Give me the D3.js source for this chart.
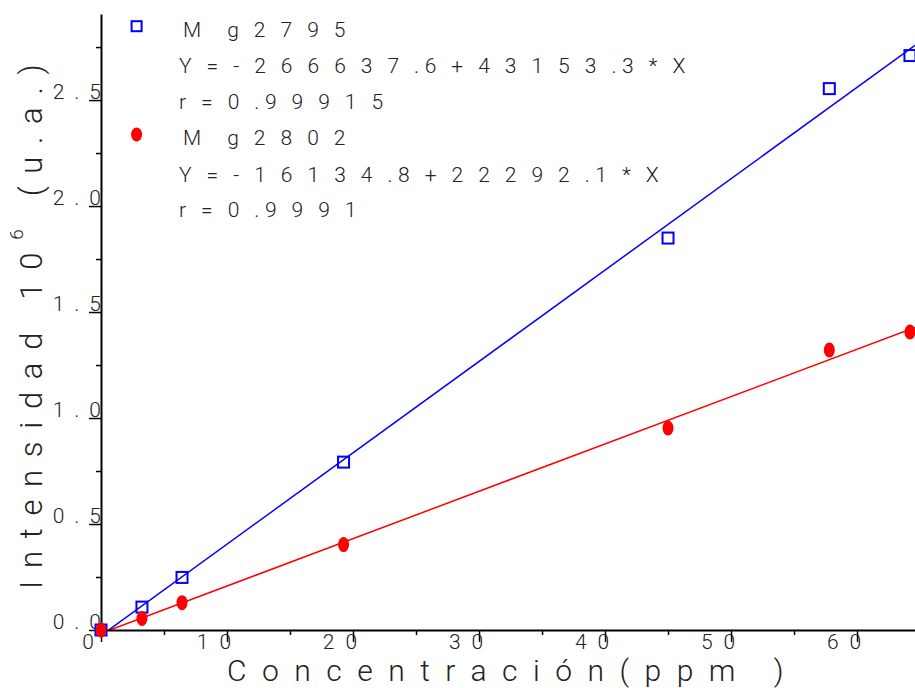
<!DOCTYPE html>
<html>
<head>
<meta charset="utf-8">
<script src="https://cdn.jsdelivr.net/npm/d3@7"></script>
<style>
  body { margin: 0; background: #fff; }
  svg { display: block; font-family: Roboto, "Liberation Sans", sans-serif; font-weight: 300; }
</style>
</head>
<body>
<svg id="chart" width="915" height="688"></svg>
<script>
// Calibration data: concentration (ppm) vs. emission intensity (x10^6 a.u.)
const concentration = [0, 3.25, 6.43, 19.25, 45.0, 57.8, 64.2];
const mg2795 = [0, 0.108, 0.248, 0.792, 1.849, 2.554, 2.710];
const mg2802 = [0, 0.054, 0.129, 0.403, 0.953, 1.321, 1.406];

const xTicks = [0, 10, 20, 30, 40, 50, 60];
const xMinorTicks = [5, 15, 25, 35, 45, 55];
const yTicks = [0, 0.5, 1.0, 1.5, 2.0, 2.5];
const yMinorTicks = [0.25, 0.75, 1.25, 1.75, 2.25, 2.75];

const seriesNames = ["Mg2795", "Mg2802"];
const fitEquations = ["Y=-266637.6+43153.3*X", "Y=-16134.8+22292.1*X"];
const fitR = ["r=0.99915", "r=0.9991"];

const xTitle = "Concentración(ppm )";
const yTitleMain = "Intensidad 10";
const yTitleSup = "6";
const yTitleUnit = " (u.a.)";

const svg = d3.select("#chart");
const plot = { left: 101, right: 915, top: 14, bottom: 630 };

const x = d3.scaleLinear().domain([0, 64.6]).range([plot.left, plot.right]);
const y = d3.scaleLinear().domain([0, 2.906]).range([plot.bottom, plot.top]);

svg.append("defs").append("clipPath").attr("id", "plotClip")
  .append("rect")
  .attr("x", plot.left).attr("y", plot.top)
  .attr("width", plot.right - plot.left).attr("height", plot.bottom - plot.top);

// wide letter spacing, with decimal points tucked against the following digit
function spacedText(textSel, str, ls, dotLs) {
  textSel.text(null);
  str.split(/(\.)/).filter(p => p.length).forEach(p => {
    textSel.append("tspan")
      .style("letter-spacing", (p === "." ? dotLs : ls) + "px")
      .text(p);
  });
}

// least-squares fit for each series
function fit(xs, ys) {
  const mx = d3.mean(xs), my = d3.mean(ys);
  let sxy = 0, sxx = 0;
  xs.forEach((v, i) => { sxy += (v - mx) * (ys[i] - my); sxx += (v - mx) * (v - mx); });
  const slope = sxy / sxx;
  return { slope, intercept: my - slope * mx };
}

const series = [
  { name: seriesNames[0], values: mg2795, color: "#0000ff", shape: "square" },
  { name: seriesNames[1], values: mg2802, color: "#ff0000", shape: "dot" }
];

// regression lines
const lineGen = d3.line().x(d => x(d[0])).y(d => y(d[1]));
const lines = svg.append("g").attr("clip-path", "url(#plotClip)");
series.forEach(s => {
  const f = fit(concentration, s.values);
  lines.append("path")
    .attr("d", lineGen(x.domain().map(v => [v, f.intercept + f.slope * v])))
    .attr("fill", "none").attr("stroke", s.color).attr("stroke-width", 1.5);
});

// axes
const tickColor = "#000";
const labelColor = "#222";
const labelFont = "Roboto, 'Liberation Sans', sans-serif";

const yAxis = svg.append("g").attr("transform", `translate(${plot.left},0)`)
  .call(d3.axisLeft(y).tickValues(yTicks).tickSize(12).tickSizeOuter(0).tickFormat(d3.format(".1f")));
const yMinor = svg.append("g").attr("transform", `translate(${plot.left},0)`)
  .call(d3.axisLeft(y).tickValues(yMinorTicks).tickSize(5).tickSizeOuter(0).tickFormat(""));
yMinor.select(".domain").remove();

const xAxis = svg.append("g").attr("transform", `translate(0,${plot.bottom})`)
  .call(d3.axisBottom(x).tickValues(xTicks).tickSize(12).tickSizeOuter(0).tickFormat(d3.format("d")));
const xMinor = svg.append("g").attr("transform", `translate(0,${plot.bottom})`)
  .call(d3.axisBottom(x).tickValues(xMinorTicks).tickSize(5).tickSizeOuter(0).tickFormat(""));
xMinor.select(".domain").remove();

[yAxis, xAxis].forEach(a => a.select(".domain").attr("stroke", tickColor).attr("stroke-width", 2));
[yAxis, yMinor, xAxis, xMinor].forEach(a => a.selectAll(".tick line").attr("stroke", tickColor).attr("stroke-width", 1.5));

yAxis.selectAll(".tick text")
  .attr("x", 10).attr("y", -2).attr("dy", null)
  .attr("text-anchor", "end")
  .style("letter-spacing", "10px")
  .attr("font-size", 21).attr("font-family", labelFont)
  .attr("fill", labelColor);

xAxis.selectAll(".tick text")
  .attr("x", -8).attr("y", 19).attr("dy", null)
  .attr("text-anchor", "middle")
  .style("letter-spacing", "11px")
  .attr("font-size", 21).attr("font-family", labelFont)
  .attr("fill", labelColor);

// data markers
const markers = svg.append("g");
function drawMarker(g, shape, color, cx, cy, big) {
  if (shape === "square") {
    const h = big ? 5.5 : 5;
    g.append("rect").attr("x", cx - h).attr("y", cy - h).attr("width", 2 * h).attr("height", 2 * h)
      .attr("fill", "none").attr("stroke", color).attr("stroke-width", 2);
  } else {
    g.append("ellipse").attr("cx", cx).attr("cy", cy)
      .attr("rx", 5.5).attr("ry", big ? 7.5 : 7).attr("fill", color);
  }
}
series.forEach(s => {
  s.values.forEach((v, i) => drawMarker(markers, s.shape, s.color, x(concentration[i]), y(v), true));
});

// legend
const legend = svg.append("g").attr("font-size", 21).attr("fill", labelColor);
const legendRows = [
  { marker: series[0], text: series[0].name, name: true },
  { text: fitEquations[0] },
  { text: fitR[0] },
  { marker: series[1], text: series[1].name, name: true },
  { text: fitEquations[1] },
  { text: fitR[1] }
];
const rowY = [36.7, 73, 109, 145, 181.5, 216.7];
legendRows.forEach((r, i) => {
  if (r.marker) drawMarker(legend, r.marker.shape, r.marker.color, 136.6, rowY[i] - 10.5, false);
  const t = legend.append("text").attr("x", 179).attr("y", rowY[i]);
  if (r.name) {
    // element symbol set slightly apart from the wavelength
    t.append("tspan").attr("dx", 4).style("letter-spacing", "15px").text(r.text.slice(0, 1));
    t.append("tspan").attr("dx", 11).style("letter-spacing", "15px").text(r.text.slice(1));
  } else {
    spacedText(t, r.text, 15, 5.5);
  }
});

// axis titles
svg.append("text")
  .attr("x", 513).attr("y", 681)
  .attr("text-anchor", "middle")
  .attr("font-size", 30).attr("fill", labelColor)
  .style("letter-spacing", "15.5px")
  .text(xTitle);

const yt = svg.append("text")
  .attr("transform", "translate(42,589) rotate(-90)")
  .attr("font-size", 31).attr("fill", labelColor)
  .style("letter-spacing", "12.7px");
yt.append("tspan").text(yTitleMain);
yt.append("tspan").attr("dy", -19).attr("font-size", 19).text(yTitleSup);
yt.append("tspan").attr("dy", 19).text(yTitleUnit);
</script>
</body>
</html>
